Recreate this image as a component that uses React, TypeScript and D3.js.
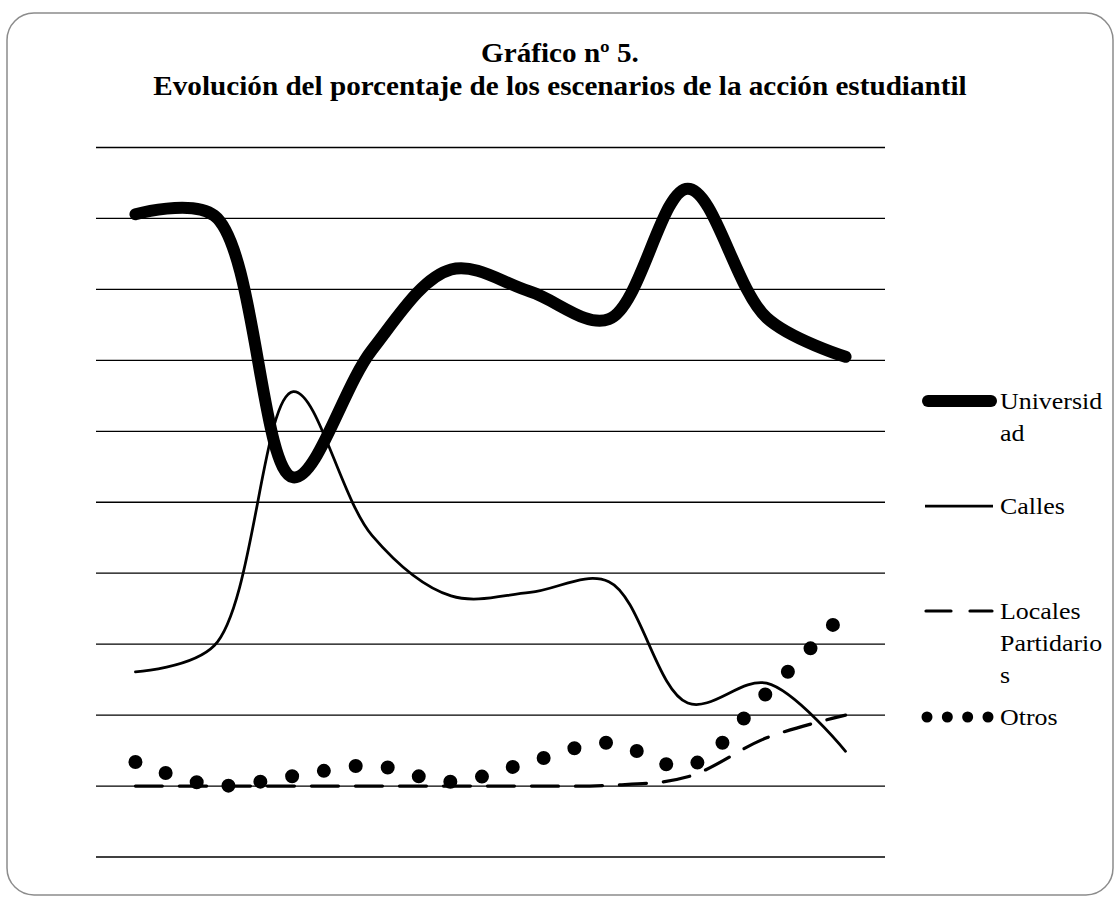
import React from "react";
import * as d3 from "d3";

const periods = ["1", "2", "3", "4", "5", "6", "7", "8", "9", "10"];
const universidad = [80.6, 80.4, 43.5, 61.5, 72.8, 69.7, 65.8, 84.2, 66.0, 60.5];
const calles = [16.1, 19.8, 55.6, 35.3, 26.8, 27.3, 28.8, 11.7, 14.5, 4.9];
const locales = [0, 0, 0, 0, 0, 0, 0.1, 1.3, 6.8, 10.0];
const otros = [3.4, 0.1, 1.4, 2.9, 0.6, 3.4, 6.1, 2.8, 13.1, 24.6];
const gridTicks = [-10, 0, 10, 20, 30, 40, 50, 60, 70, 80, 90];
const titleLines = ["Gráfico nº 5.", "Evolución del porcentaje de los escenarios de la acción estudiantil"];
const legendItems = [
  { lines: ["Universid", "ad"] },
  { lines: ["Calles"] },
  { lines: ["Locales", "Partidario", "s"] },
  { lines: ["Otros"] },
];

const W = 1120;
const H = 901;
const left = 96;
const right = 885;
const top = 147.5;
const bottom = 857;
const SX = 1.08;

export default function App() {
  const x = d3.scalePoint<string>().domain(periods).range([left, right]).padding(0.5);
  const y = d3.scaleLinear().domain([-10, 90]).range([bottom, top]);
  const line = d3
    .line<number>()
    .x((_, i) => x(periods[i]) as number)
    .y((d) => y(d))
    .curve(d3.curveCatmullRom.alpha(0.5));

  const serif = "'Liberation Serif', 'Times New Roman', serif";

  const series = [
    { name: "univ", data: universidad, sw: 12, dash: undefined as string | undefined },
    { name: "calles", data: calles, sw: 2.75, dash: undefined },
    { name: "locales", data: locales, sw: 3.2, dash: "27 17" },
    { name: "otros", data: otros, sw: 14, dash: "0 32.2" },
  ];

  const legendY = [401, 506, 611, 717];

  return (
    <svg width={W} height={H} style={{ position: "absolute", left: 0, top: 0, background: "#fff" }}>
      <rect x={7} y={13} width={1106} height={882} rx={27} ry={27} fill="#fff" stroke="#8c8c8c" strokeWidth={1.5} />
      {titleLines.map((t, i) => (
        <g key={i} transform={`translate(560, ${62 + i * 33}) scale(${SX}, 1)`}>
          <text x={0} y={0} textAnchor="middle" fontFamily={serif} fontWeight="bold" fontSize={27}>
            {t}
          </text>
        </g>
      ))}
      {gridTicks.map((t) => (
        <line key={t} x1={left} x2={right} y1={y(t)} y2={y(t)} stroke="#000" strokeWidth={1.3} />
      ))}
      {series.map((s) => (
        <path
          key={s.name}
          d={line(s.data) || ""}
          fill="none"
          stroke="#000"
          strokeWidth={s.sw}
          strokeDasharray={s.dash}
          strokeLinecap="round"
          strokeLinejoin="round"
        />
      ))}
      <line x1={928} x2={991} y1={legendY[0]} y2={legendY[0]} stroke="#000" strokeWidth={12} strokeLinecap="round" />
      <line x1={925} x2={993} y1={legendY[1]} y2={legendY[1]} stroke="#000" strokeWidth={2.75} />
      <line x1={926} x2={992} y1={legendY[2]} y2={legendY[2]} stroke="#000" strokeWidth={3.2} strokeDasharray="25 19" strokeLinecap="round" />
      <line x1={927} x2={988} y1={legendY[3]} y2={legendY[3]} stroke="#000" strokeWidth={11} strokeDasharray="0 20.33" strokeLinecap="round" />
      {legendItems.map((it, i) =>
        it.lines.map((l, j) => (
          <g key={`${i}-${j}`} transform={`translate(1000, ${legendY[i] + 8 + j * 32}) scale(${SX}, 1)`}>
            <text x={0} y={0} fontFamily={serif} fontSize={24} fill="#000">
              {l}
            </text>
          </g>
        ))
      )}
    </svg>
  );
}
